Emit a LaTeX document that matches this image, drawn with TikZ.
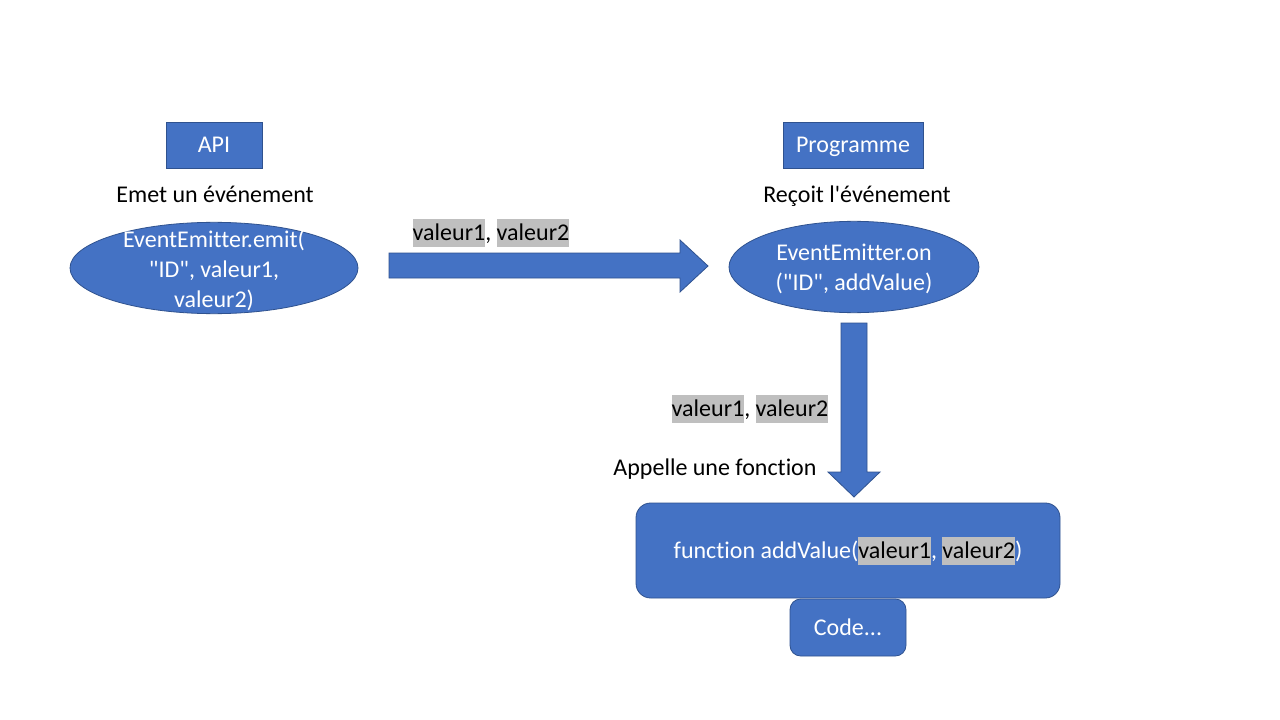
\documentclass[tikz,border=0pt]{standalone}
\usepackage{fontspec}
\setmainfont{Carlito}[Ligatures={TeXOff,NoCommon}]
\usetikzlibrary{shapes.geometric}
\definecolor{blu}{HTML}{4472C4}
\definecolor{bluedge}{HTML}{2F528F}
\definecolor{hlgray}{HTML}{BFBFBF}
\newcommand{\hlt}[1]{{\setlength{\fboxsep}{0pt}\colorbox{hlgray}{\rule[-5.2pt]{0pt}{21pt}\color{black}#1}}}
\begin{document}
\begin{tikzpicture}[x=0.75pt,y=-0.75pt,
  every node/.style={font=\fontsize{18}{22.5}\selectfont},
  oneline/.style={text height=15pt,text depth=3.4pt},
  bluebox/.style={draw=bluedge,fill=blu,line width=0.6pt,text=white,inner sep=0pt},
  plain/.style={text=black,inner sep=0pt},
  blockarrow/.style={draw=bluedge,fill=blu,line width=0.6pt}]
\useasboundingbox (0,0) rectangle (1280,720);
\fill[white] (0,0) rectangle (1280,720);

% top boxes
\node[bluebox,oneline,minimum width=72pt,minimum height=34.5pt] (api) at (214,145) {API};
\node[bluebox,oneline,minimum width=105pt,minimum height=34.5pt] (prog) at (853,145) {Programme};

% captions
\node[plain,oneline] (emet) at (215,195) {Emet un événement};
\node[plain,oneline] (recoit) at (857,195) {Reçoit l'événement};

% ellipses
\node[bluebox,ellipse,minimum width=216pt,minimum height=68.5pt] (emit) at (214,268) {};
\node[text=white,inner sep=0pt,align=center] (emittext) at ([yshift=-2pt]emit.center) {EventEmitter.emit(\\"ID", valeur1,\\valeur2)};
\node[bluebox,ellipse,minimum width=187.5pt,minimum height=68.5pt] (on) at (854,267) {};
\node[text=white,inner sep=0pt,align=center] (ontext) at ([yshift=-1.5pt]on.center) {EventEmitter.on\\("ID", addValue)};

% right block arrow
\draw[blockarrow] (389,253) -- (680,253) -- (680,240) -- (708,266) -- (680,292) -- (680,278) -- (389,278) -- cycle;
\node[plain] (lab1) at (491,233) {\hlt{valeur1}, \hlt{valeur2}};

% down block arrow
\draw[blockarrow] (841,323) -- (867,323) -- (867,472) -- (880,472) -- (854,497) -- (828,472) -- (841,472) -- cycle;
\node[plain] (lab2) at (750,409) {\hlt{valeur1}, \hlt{valeur2}};
\node[plain,oneline] (appelle) at (715,468) {Appelle une fonction};

% function box
\draw[bluebox,rounded corners=11pt] (636,503) rectangle (1060,598);
\node[text=white,inner sep=0pt] (func) at (848,551) {function addValue(\hlt{valeur1}, \hlt{valeur2})};
\draw[bluebox,rounded corners=8pt] (790,599) rectangle (906,656);
\node[text=white,inner sep=0pt,oneline] (code) at (848,628) {Code...};
\end{tikzpicture}
\end{document}
